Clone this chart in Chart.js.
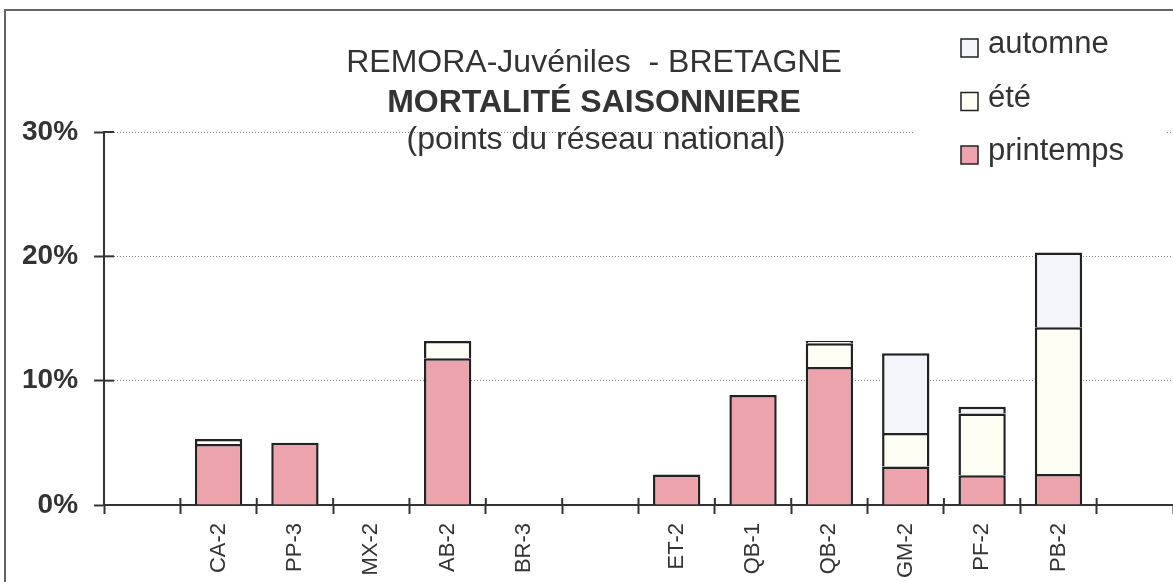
<!DOCTYPE html>
<html>
<head>
<meta charset="utf-8">
<script src="https://cdn.jsdelivr.net/npm/chart.js@4"></script>
<style>
  html, body { margin: 0; padding: 0; background: #fff; }
  #wrap { position: relative; width: 1173px; height: 582px; overflow: hidden; }
  #frame { position: absolute; left: 4px; top: 9px; width: 1200px; height: 620px; border: 2px solid #666; }
  canvas { position: absolute; left: 0; top: 0; }
</style>
</head>
<body>
<div id="wrap">
  <div id="frame"></div>
  <canvas id="mortaliteChart" width="1173" height="582"></canvas>
</div>
<script>
// sites (empty slots keep the gaps of the original)
const sites = ['', 'CA-2', 'PP-3', 'MX-2', 'AB-2', 'BR-3', '', 'ET-2', 'QB-1', 'QB-2', 'GM-2', 'PF-2', 'PB-2', ''];

// mortalité (%) par saison
const printemps = [null, 4.9, 5.0, null, 11.8, null, null, 2.45, 8.85, 11.1, 3.1, 2.4, 2.5, null];
const ete       = [null, 0.4, null, null, 1.4, null, null, null, null, 1.9, 2.7, 4.95, 11.8, null];
const automne   = [null, null, null, null, null, null, null, null, null, 0.2, 6.4, 0.55, 6.0, null];

const yTicks = [0, 10, 20, 30];

const titleLines = ['REMORA-Juvéniles  - BRETAGNE', 'MORTALITÉ SAISONNIERE', '(points du réseau national)'];

const FONT = '"Liberation Sans", Arial, sans-serif';

// title + legend drawn over the plot, and the small tick crossings
const overlay = {
  id: 'overlay',
  afterDatasetsDraw(chart) {
    const ctx = chart.ctx;
    const x = chart.scales.x;
    const y = chart.scales.y;
    ctx.save();
    ctx.strokeStyle = '#333';
    ctx.lineWidth = 2;
    const step = x.getPixelForValue(1) - x.getPixelForValue(0);
    for (let i = 1; i < sites.length; i++) {
      const px = x.getPixelForValue(i) - step / 2;
      ctx.beginPath();
      ctx.moveTo(px, y.bottom);
      ctx.lineTo(px, y.bottom - 7);
      ctx.stroke();
    }
    yTicks.forEach(v => {
      const py = y.getPixelForValue(v);
      ctx.beginPath();
      ctx.moveTo(x.left, py);
      ctx.lineTo(x.left + 10, py);
      ctx.stroke();
    });
    ctx.restore();
  },
  afterDraw(chart) {
    const ctx = chart.ctx;
    ctx.save();
    // title
    ctx.fillStyle = '#333';
    ctx.textAlign = 'center';
    ctx.textBaseline = 'alphabetic';
    ctx.font = '32px ' + FONT;
    ctx.fillText(titleLines[0], 594, 72);
    ctx.font = 'bold 32px ' + FONT;
    ctx.fillText(titleLines[1], 594, 112);
    ctx.font = '32px ' + FONT;
    ctx.fillText(titleLines[2], 596, 149);

    // legend
    ctx.fillStyle = '#fff';
    ctx.fillRect(915, 14, 250, 172);
    const items = chart.data.datasets.slice().reverse();
    ctx.textAlign = 'left';
    ctx.font = '31px ' + FONT;
    items.forEach((ds, i) => {
      const base = 53 + i * 53.5;
      ctx.fillStyle = ds.backgroundColor;
      ctx.fillRect(961, base - 14, 17, 18);
      ctx.strokeStyle = '#222';
      ctx.lineWidth = 1.5;
      ctx.strokeRect(961, base - 14, 17, 18);
      ctx.fillStyle = '#333';
      ctx.fillText(ds.label, 988, base);
    });
    ctx.restore();
  }
};

const ctx = document.getElementById('mortaliteChart').getContext('2d');

const chart = new Chart(ctx, {
  type: 'bar',
  data: {
    labels: sites,
    datasets: [
      { label: 'printemps', data: printemps, backgroundColor: '#eda3ab' },
      { label: 'été', data: ete, backgroundColor: '#fffef4' },
      { label: 'automne', data: automne, backgroundColor: '#f3f5fa' }
    ].map(ds => Object.assign(ds, {
      borderColor: '#222',
      borderWidth: { top: 2.5, left: 2.5, right: 2.5, bottom: 0 },
      borderSkipped: false,
      categoryPercentage: 1.0,
      barPercentage: 0.62
    }))
  },
  options: {
    responsive: false,
    devicePixelRatio: 1,
    animation: false,
    layout: { padding: { top: 132, left: 6, right: 0, bottom: -5 } },
    plugins: {
      legend: { display: false },
      title: { display: false },
      tooltip: { enabled: false }
    },
    scales: {
      x: {
        stacked: true,
        offset: true,
        grid: {
          offset: true,
          drawOnChartArea: false,
          drawTicks: true,
          tickLength: 9,
          tickColor: '#333',
          tickWidth: 2
        },
        border: { color: '#333', width: 2 },
        ticks: {
          autoSkip: false,
          minRotation: 90,
          maxRotation: 90,
          padding: 9,
          color: '#333',
          font: { family: FONT, size: 22 }
        }
      },
      y: {
        stacked: true,
        min: 0,
        max: 30,
        afterBuildTicks: scale => { scale.ticks = yTicks.map(v => ({ value: v })); },
        grid: {
          color: '#888',
          lineWidth: 1,
          drawTicks: true,
          tickLength: 10,
          tickColor: '#333',
          tickWidth: 2,
          tickBorderDash: []
        },
        border: { color: '#333', width: 2, dash: [1, 2] },
        ticks: {
          padding: 16,
          color: '#333',
          font: { family: FONT, size: 28, weight: 'bold' },
          callback: v => v + '%'
        }
      }
    }
  },
  plugins: [overlay]
});
</script>
</body>
</html>
